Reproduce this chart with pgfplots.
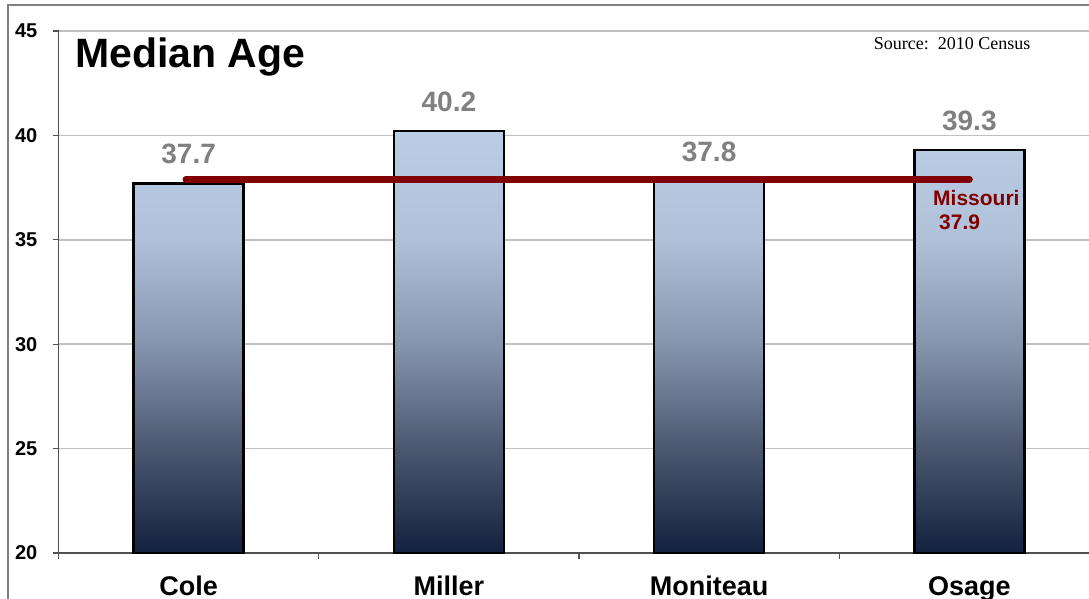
\documentclass[border=0pt]{standalone}
\usepackage{fontspec}
\setmainfont{Liberation Sans}
\newfontfamily\seriffont{Liberation Serif}
\usepackage{pgfplots}
\pgfplotsset{compat=1.18}
\definecolor{gridc}{RGB}{192,192,192}
\definecolor{axc}{RGB}{80,80,80}
\definecolor{framec}{RGB}{128,128,128}
\definecolor{valc}{RGB}{128,128,128}
\definecolor{mored}{RGB}{128,0,0}
\pgfdeclareverticalshading{barshade}{100bp}{%
  color(0bp)=(rgb,255:red,18;green,33;blue,62);
  color(25bp)=(rgb,255:red,18;green,33;blue,62);
  color(30bp)=(rgb,255:red,42;green,55;blue,82);
  color(37.5bp)=(rgb,255:red,75;green,88;blue,112);
  color(50bp)=(rgb,255:red,135;green,150;blue,175);
  color(62.5bp)=(rgb,255:red,176;green,194;blue,218);
  color(75bp)=(rgb,255:red,185;green,205;blue,228);
  color(100bp)=(rgb,255:red,185;green,205;blue,228)}
\begin{document}
\begin{tikzpicture}[x=1pt,y=1pt]
\path[use as bounding box, clip] (0,0) rectangle (1089,598);
\draw[framec, line width=1.5pt] (8,-5) -- (8,593) -- (1095,593);
\begin{axis}[
  at={(58.5pt,45pt)}, anchor=south west,
  scale only axis, width=1041pt, height=522pt,
  xmin=-0.5, xmax=3.5, ymin=20, ymax=45,
  ytick={20,25,...,45},
  xtick={-0.5,0.5,1.5,2.5,3.5}, xticklabels={},
  extra x ticks={0,1,2,3},
  extra x tick labels={Cole,Miller,Moniteau,Osage},
  extra x tick style={major tick length=0pt, grid=none,
    xticklabel style={font=\fontsize{27}{30}\selectfont\bfseries, inner sep=0pt, anchor=north, yshift=-23pt}},
  tick align=outside, tick pos=left,
  major tick length=6pt,
  tick style={draw=axc, line width=1.2pt},
  axis x line*=bottom, axis y line*=left,
  axis line style={draw=axc, line width=1.5pt, -},
  ymajorgrids, grid style={draw=gridc, line width=1.5pt},
  yticklabel style={font=\fontsize{20}{24}\selectfont\bfseries, inner sep=0pt, xshift=-15pt},
  /pgf/number format/assume math mode=true,
  clip=false,
]
\addplot[ybar, bar width=0.4226, draw=black, line width=2.5pt,
  shading=barshade,
  nodes near coords={\pgfmathprintnumber[fixed,precision=1,fixed zerofill]{\pgfplotspointmeta}},
  nodes near coords style={font=\fontsize{28}{32}\selectfont\bfseries, text=valc, anchor=south, inner sep=0pt, yshift=18pt}]
  coordinates {(0,37.7) (1,40.2) (2,37.8) (3,39.3)};
\addplot[mored, line width=7pt, line cap=round] coordinates {(-0.01,37.9) (3.0,37.9)};
\end{axis}
\node[anchor=base west, inner sep=0pt, font=\fontsize{41}{45}\selectfont\bfseries] at (75,530) {Median Age};
\node[anchor=base, inner sep=0pt, font=\seriffont\fontsize{18}{20}\selectfont] at (952,548) {Source:\ \ 2010 Census};
\node[anchor=north west, inner sep=0pt, align=left, text=mored, font=\fontsize{21}{24}\selectfont\bfseries] at (933,408) {Missouri\\\hspace*{6pt}37.9};
\end{tikzpicture}
\end{document}
